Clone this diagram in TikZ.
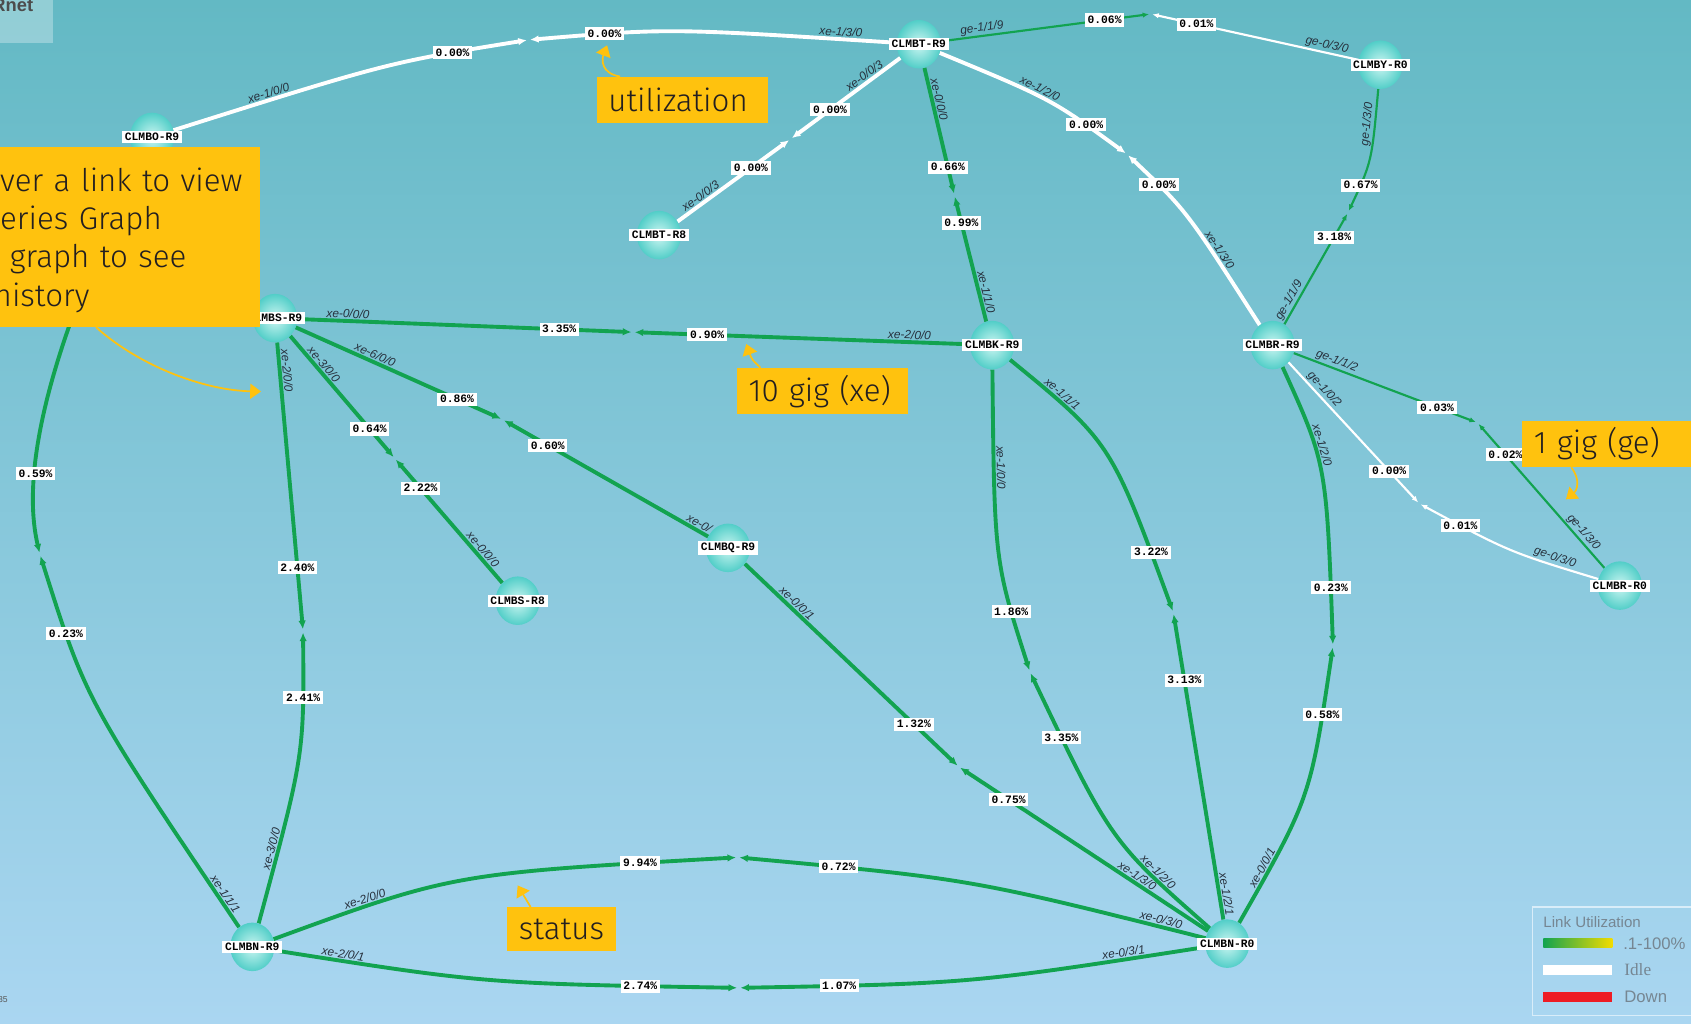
\documentclass[tikz,border=0pt]{standalone}
\usepackage{fontspec}
\setmainfont{Liberation Sans}
\newfontfamily\labelfont{Liberation Mono}
\newfontfamily\serifface{Liberation Serif}
\newfontfamily\notefont{Fira Sans}[UprightFont={* Light}]
\usetikzlibrary{arrows.meta,shapes.geometric}
\pgfdeclarelayer{bg}
\pgfdeclarelayer{links}
\pgfsetlayers{bg,links,main}
\definecolor{linkgreen}{RGB}{18,163,80}
\definecolor{noteyellow}{RGB}{255,194,14}
\definecolor{notetext}{RGB}{35,31,32}
\definecolor{ifacetext}{RGB}{38,48,60}
\definecolor{legendtext}{RGB}{118,134,146}
\definecolor{downred}{RGB}{237,28,36}
\definecolor{busyyellow}{RGB}{242,220,0}
\definecolor{skytop}{RGB}{99,185,196}
\definecolor{skymid}{RGB}{128,194,220}
\definecolor{skybot}{RGB}{170,214,241}
\definecolor{ballin}{RGB}{205,246,242}
\definecolor{ballout}{RGB}{82,206,200}
\tikzset{
router/.style=
    {ellipse,
    minimum width=41pt,
    minimum height=45pt,
    inner sep=0pt,
    shading=radial,
    inner color=ballin,
    outer color=ballout
    },
rname/.style=
    {fill=white,
    inner xsep=2.5pt,
    inner ysep=2pt,
    font=\labelfont\bfseries\fontsize{10.5}{11}\selectfont
    },
util/.style=
    {fill=white,
    inner xsep=2.5pt,
    inner ysep=2.5pt,
    pos=.78,
    font=\labelfont\bfseries\fontsize{10.5}{11}\selectfont
    },
iface/.style=
    {sloped,
    above=1pt,
    inner sep=0pt,
    text=ifacetext,
    font=\itshape\fontsize{11}{12}\selectfont
    },
xeup/.style={draw=linkgreen, line width=3.6pt, shorten >=1.5pt, -{Latex[length=8pt,width=7pt]}},
xeidle/.style={draw=white, line width=3.6pt, shorten >=1.5pt, -{Latex[length=8pt,width=7pt]}},
geup/.style={draw=linkgreen, line width=2pt, shorten >=1.5pt, -{Latex[length=6pt,width=5pt]}},
geidle/.style={draw=white, line width=2pt, shorten >=1.5pt, -{Latex[length=6pt,width=5pt]}},
notebox/.style=
    {fill=noteyellow,
    text=notetext,
    inner xsep=11pt,
    inner ysep=0pt,
    align=left,
    font=\notefont\fontsize{29}{35.5}\selectfont
    },
notearrow/.style={draw=noteyellow, line width=1.6pt, -{Triangle[length=10pt,width=14pt]}},
legendtitle/.style={text=legendtext, inner sep=0pt, font=\fontsize{14}{15}\selectfont},
legendentry/.style={text=legendtext, inner sep=0pt, font=\fontsize{15.5}{16}\selectfont}
}

\begin{document}
\begin{tikzpicture}[x=1pt,y=-1pt]
\useasboundingbox (0,0) rectangle (1568,949);
\begin{pgfonlayer}{bg}
\shade[top color=skytop, middle color=skymid, bottom color=skybot] (0,0) rectangle (1568,949);
\end{pgfonlayer}

% corner tags
\fill[white, opacity=.3] (0,0) rectangle (49,40);
\node[anchor=base east, inner sep=0pt, text=black!70, font=\bfseries\fontsize{17}{17}\selectfont] (rnet) at (31,11) {Rnet};
\node[anchor=west, inner sep=0pt, text=black!65, font=\fontsize{8}{8}\selectfont] (corner) at (-2,927) {35};

% routers
\node[router] (o9) at (141,127) {};
\node[rname] (o9t) at (o9) {CLMBO-R9};
\node[router] (bt9) at (852,41) {};
\node[rname] (bt9t) at (bt9) {CLMBT-R9};
\node[router] (ct8) at (611,218) {};
\node[rname] (ct8t) at (ct8) {CLMBT-R8};
\node[router] (by0) at (1280,60) {};
\node[rname] (by0t) at (by0) {CLMBY-R0};
\node[router] (cs9) at (255,295) {};
\node[rname] (cs9t) at (cs9) {CLMBS-R9};
\node[router] (bk9) at (920,320) {};
\node[rname] (bk9t) at (bk9) {CLMBK-R9};
\node[router] (br9) at (1180,320) {};
\node[rname] (br9t) at (br9) {CLMBR-R9};
\node[router] (bq9) at (675,508) {};
\node[rname] (bq9t) at (bq9) {CLMBQ-R9};
\node[router] (cs8) at (480,557) {};
\node[rname] (cs8t) at (cs8) {CLMBS-R8};
\node[router] (br0) at (1502,543) {};
\node[rname] (br0t) at (br0) {CLMBR-R0};
\node[router] (cn9) at (234,878) {};
\node[rname] (cn9t) at (cn9) {CLMBN-R9};
\node[router] (bn0) at (1138,875) {};
\node[rname] (bn0t) at (bn0) {CLMBN-R0};

% link midpoints
\coordinate (m1) at (490,37);
\coordinate (m2) at (1067,13);
\coordinate (m3) at (733,129);
\coordinate (m4) at (885,181);
\coordinate (m5) at (1045,143);
\coordinate (m6) at (1250,197);
\coordinate (m7) at (587,308);
\coordinate (m8) at (466,389);
\coordinate (m9) at (366,425);
\coordinate (m10) at (281,585);
\coordinate (m11) at (37,514);
\coordinate (m12) at (955,623);
\coordinate (m13) at (1088,568);
\coordinate (m14) at (1236,599);
\coordinate (m15) at (1370,392);
\coordinate (m16) at (1316,467);
\coordinate (m17) at (889,711);
\coordinate (m18) at (684,795);
\coordinate (m19) at (685,916);

\begin{pgfonlayer}{links}
% CLMBO-R9 -- CLMBT-R9
\draw[xeidle] (o9) .. controls (360,58) .. (m1) node[iface,pos=.18]{xe-1/0/0} node[util]{0.00\%};
\draw[xeidle] (bt9) .. controls (620,26) .. (m1) node[iface,pos=.09]{xe-1/3/0} node[util]{0.00\%};
% CLMBT-R9 -- CLMBY-R0
\draw[geup] (bt9) -- (m2) node[iface,pos=.2]{ge-1/1/9} node[util]{0.06\%};
\draw[geidle] (by0) -- (m2) node[iface,pos=.16]{ge-0/3/0} node[util]{0.01\%};
% CLMBT-R9 -- CLMBT-R8
\draw[xeidle] (bt9) -- (m3) node[iface,pos=.29]{xe-0/0/3} node[util,pos=.64]{0.00\%};
\draw[xeidle] (ct8) -- (m3) node[iface,pos=.24]{xe-0/0/3} node[util,pos=.65]{0.00\%};
% CLMBT-R9 -- CLMBK-R9
\draw[xeup] (bt9) -- (m4) node[iface,pos=.26]{xe-0/0/0} node[util]{0.66\%};
\draw[xeup] (bk9) -- (m4) node[iface,pos=.22]{xe-1/1/0} node[util]{0.99\%};
% CLMBT-R9 -- CLMBR-R9
\draw[xeidle] (bt9) .. controls (975,92) .. (m5) node[iface,pos=.43]{xe-1/2/0} node[util]{0.00\%};
\draw[xeidle] (br9) .. controls (1100,195) .. (m5) node[iface,pos=.27]{xe-1/3/0} node[util]{0.00\%};
% CLMBY-R0 -- CLMBR-R9
\draw[geup] (by0) .. controls (1272,150) .. (m6) node[iface,pos=.2]{ge-1/3/0} node[util]{0.67\%};
\draw[geup] (br9) -- (m6) node[iface,pos=.18]{ge-1/1/9} node[util]{3.18\%};
% CLMBS-R9 -- CLMBK-R9
\draw[xeup] (cs9) -- (m7) node[iface,pos=.15]{xe-0/0/0} node[util]{3.35\%};
\draw[xeup] (bk9) -- (m7) node[iface,pos=.18]{xe-2/0/0} node[util]{0.90\%};
% CLMBS-R9 -- CLMBQ-R9
\draw[xeup] (cs9) -- (m8) node[iface,pos=.37]{xe-6/0/0} node[util]{0.86\%};
\draw[xeup] (bq9) -- (m8) node[iface,pos=.06]{xe-0/} node[util]{0.60\%};
% CLMBS-R9 -- CLMBS-R8
\draw[xeup] (cs9) -- (m9) node[iface,pos=.27]{xe-3/0/0} node[util,pos=.76]{0.64\%};
\draw[xeup] (cs8) -- (m9) node[iface,pos=.23]{xe-0/0/0} node[util,pos=.76]{2.22\%};
% CLMBS-R9 -- CLMBN-R9
\draw[xeup] (cs9) -- (m10) node[iface,pos=.1]{xe-2/0/0} node[util]{2.40\%};
\draw[xeup] (cn9) .. controls (282,700) .. (m10) node[iface,pos=.17]{xe-3/0/0} node[util]{2.41\%};
% CLMBO-R9 -- CLMBN-R9
\draw[xeup] (o9) .. controls (95,220) and (10,400) .. (m11) node[util,pos=.8]{0.59\%};
\draw[xeup] (cn9) .. controls (80,650) .. (m11) node[iface,pos=.045]{xe-1/1/1} node[util]{0.23\%};
% CLMBK-R9 -- CLMBN-R0
\draw[xeup] (bk9) .. controls (922,520) .. (m12) node[iface,pos=.21]{xe-1/0/0} node[util]{1.86\%};
\draw[xeup] (bn0) .. controls (1030,780) .. (m12) node[iface,pos=.24]{xe-1/2/0} node[util,pos=.85]{3.35\%};
\draw[xeup] (bk9) .. controls (1030,410) .. (m13) node[iface,pos=.19]{xe-1/1/1} node[util,pos=.865]{3.22\%};
\draw[xeup] (bn0) -- (m13) node[iface,pos=.08]{xe-1/2/1} node[util]{3.13\%};
% CLMBR-R9 -- CLMBN-R0
\draw[xeup] (br9) .. controls (1230,430) .. (m14) node[iface,pos=.36]{xe-1/2/0} node[util,pos=.88]{0.23\%};
\draw[xeup] (bn0) .. controls (1215,740) .. (m14) node[iface,pos=.16]{xe-0/0/1} node[util,pos=.82]{0.58\%};
% CLMBR-R9 -- CLMBR-R0
\draw[geup] (br9) -- (m15) node[iface,pos=.22]{ge-1/1/2} node[util]{0.03\%};
\draw[geup] (br0) -- (m15) node[iface,pos=.21]{ge-1/3/0} node[util]{0.02\%};
\draw[geidle] (br9) -- (m16) node[iface,pos=.23]{ge-1/0/2} node[util,pos=.77]{0.00\%};
\draw[geidle] (br0) .. controls (1400,512) .. (m16) node[iface,pos=.21]{ge-0/3/0} node[util,pos=.82]{0.01\%};
% CLMBQ-R9 -- CLMBN-R0
\draw[xeup] (bq9) -- (m17) node[iface,pos=.22]{xe-0/0/1} node[util,pos=.79]{1.32\%};
\draw[xeup] (bn0) -- (m17) node[iface,pos=.3]{xe-1/3/0} node[util,pos=.8]{0.75\%};
% CLMBN-R9 -- CLMBN-R0
\draw[xeup] (cn9) .. controls (420,810) .. (m18) node[iface,pos=.21]{xe-2/0/0} node[util,pos=.87]{9.94\%};
\draw[xeup] (bn0) .. controls (900,815) .. (m18) node[iface,pos=.07]{xe-0/3/0} node[util,pos=.83]{0.72\%};
\draw[xeup] (cn9) .. controls (450,912) .. (m19) node[iface,pos=.12]{xe-2/0/1} node[util,pos=.85]{2.74\%};
\draw[xeup] (bn0) .. controls (900,912) .. (m19) node[iface,pos=.13]{xe-0/3/1} node[util,pos=.83]{1.07\%};
\end{pgfonlayer}

% legend
\draw[draw=white!55!skybot, line width=1pt] (1421,841) rectangle (1600,942);
\node[legendtitle, anchor=base west] (legtitle) at (1431,860) {Link Utilization};
\shade[left color=linkgreen, right color=busyyellow] (1431,870) rectangle (1495,879);
\fill[white] (1431,895) rectangle (1495,904);
\fill[downred] (1431,920) rectangle (1495,929);
\node[legendentry, anchor=west] (legbusy) at (1505,875) {.1-100\%};
\node[legendentry, anchor=west, font=\serifface\fontsize{16}{16}\selectfont] (legidle) at (1506,899) {Idle};
\node[legendentry, anchor=west] (legdown) at (1506,924) {Down};

% call-outs
\node[notebox, anchor=north west, inner xsep=0pt, text width=241pt, minimum height=167pt] (hovernote) at (0,136)
  {\rule{0pt}{28pt}ver a link to view\\eries Graph\\\hspace*{9pt}graph to see\\\hspace*{-6pt}history};
\node[notebox, anchor=north west, text width=137pt, minimum height=43pt] (utilnote) at (553,71) {utilization};
\node[notebox, anchor=north west, text width=137pt, minimum height=43pt] (xenote) at (683,341) {10 gig (xe)};
\node[notebox, anchor=north west, text width=147pt, minimum height=43pt] (genote) at (1411,390) {1 gig (ge)};
\node[notebox, anchor=north west, text width=79pt, minimum height=41pt] (statusnote) at (470,841) {status};
\coordinate (hovertip) at (242,363);
\coordinate (utiltip) at (563,42);
\coordinate (xetip) at (692,319);
\coordinate (getip) at (1452,463);
\coordinate (statustip) at (480,821);
\draw[notearrow] ([xshift=89pt]hovernote.south west) .. controls (130,340) and (190,362) .. (hovertip);
\draw[notearrow] ([xshift=22pt]utilnote.north west) .. controls (557,68) and (558,55) .. (utiltip);
\draw[notearrow] ([xshift=22pt]xenote.north west) .. controls (697,333) .. (xetip);
\draw[notearrow] ([xshift=46pt]genote.south west) .. controls (1466,445) and (1462,455) .. (getip);
\draw[notearrow] ([xshift=22pt]statusnote.north west) -- (statustip);
\end{tikzpicture}
\end{document}
